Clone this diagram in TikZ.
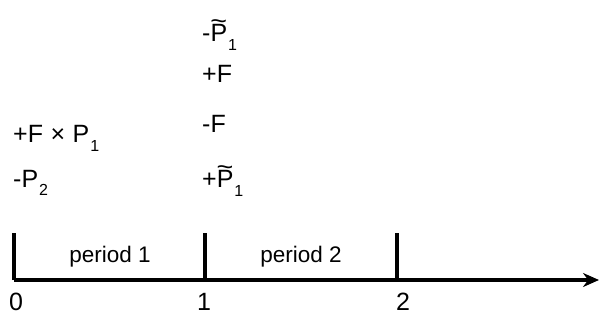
\documentclass[tikz,border=0pt]{standalone}
\usepackage{fontspec}
\setmainfont{Liberation Sans}
\usetikzlibrary{positioning,arrows.meta}
\newcommand{\lowidx}[1]{\hspace{1pt}\raisebox{-9pt}{\fontsize{16}{16}\selectfont #1}}
\newcommand{\tilP}{\ooalign{P\cr\hidewidth\raisebox{0.5em}{\scalebox{1.15}[1]{\textasciitilde}}\hidewidth\cr}}

\begin{document}
\begin{tikzpicture}[x=1pt,y=-1pt]
  \useasboundingbox (0,0) rectangle (601,320);
  \tikzset{lbl/.style={inner sep=0pt, anchor=base west, font=\fontsize{25}{25}\selectfont},
    per/.style={inner sep=0pt, anchor=base, font=\fontsize{22.5}{22.5}\selectfont}}

  \coordinate (t0) at (14,280);
  \coordinate (t1) at (205,280);
  \coordinate (t2) at (397,280);
  \coordinate (tend) at (599,280);

  \draw[line width=3.2pt, -{Stealth[length=16pt,width=14pt]}] (t0)--(tend);
  \draw[line width=3.2pt] (t0)--++(0,-47);
  \draw[line width=3.2pt] (t1)--++(0,-47);
  \draw[line width=3.2pt] (t2)--++(0,-47);

  \node[lbl, anchor=base] (n0) at (16,310) {0};
  \node[lbl, anchor=base] (n1) at (204,310) {1};
  \node[lbl, anchor=base] (n2) at (403,310) {2};

  \node[per] (p1) at (110,262) {period 1};
  \node[per] (p2) at (301,262) {period 2};

  % period 1 column
  \node[lbl] (fp) at (13,143) {+F\hspace{0.3em}×\hspace{0.3em}P\lowidx{1}};
  \node[lbl] (mp) at (13,187) {-P\lowidx{2}};

  % period 2 column
  \node[lbl] (mpt) at (202,42) {-\tilP\lowidx{1}};
  \node[lbl] (pf) at (202,83) {+F};
  \node[lbl] (mf) at (202,133) {-F};
  \node[lbl] (ppt) at (202,188) {+\tilP\lowidx{1}};
\end{tikzpicture}
\end{document}
